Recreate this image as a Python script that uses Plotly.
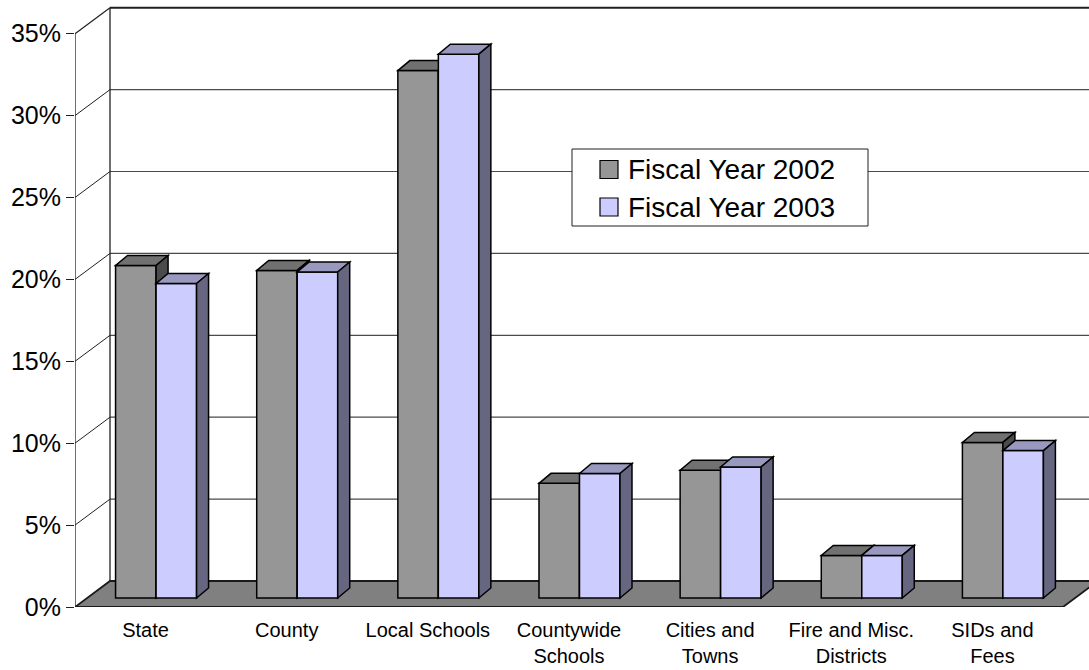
import plotly.graph_objects as go

# Share of total by recipient, fiscal years 2002 and 2003 (percent)
categories = ["State", "County", "Local Schools", "Countywide<br>Schools",
              "Cities and<br>Towns", "Fire and Misc.<br>Districts", "SIDs and<br>Fees"]
fy2002 = [20.3, 20.0, 32.2, 7.0, 7.8, 2.6, 9.5]
fy2003 = [19.2, 19.9, 33.2, 7.6, 8.0, 2.6, 9.0]
series_names = ["Fiscal Year 2002", "Fiscal Year 2003"]
y_ticks = [0, 5, 10, 15, 20, 25, 30, 35]

W, H = 1089, 670
ML, MB = 75, 63
PX_CAT = 141.14           # pixels per category
PX_PCT = 16.38            # pixels per percent
X_MAX = (W - ML) / PX_CAT
Y_MAX = (H - MB) / PX_PCT

# oblique depth offsets, expressed in axis units
WALL_DX, WALL_DY = 35 / PX_CAT, 26 / PX_PCT
BAR_SX, BAR_SY = 10.5 / PX_CAT, 9 / PX_PCT
BAR_DX, BAR_DY = 12 / PX_CAT, 10 / PX_PCT
BAR_W = 40.5 / PX_CAT

face_colors = [
    {"front": "#969696", "top": "#717171", "side": "#4b4b4b"},
    {"front": "#CCCCFF", "top": "#9999BF", "side": "#666680"},
]

shapes = []


def poly(pts, fill, line_color="black", width=1.5):
    d = "M " + " L ".join(f"{x:.5f},{y:.5f}" for x, y in pts) + " Z"
    shapes.append(dict(type="path", xref="x", yref="y", path=d,
                       fillcolor=fill, line=dict(color=line_color, width=width)))


def seg(x0, y0, x1, y1, color="#404040", width=1):
    shapes.append(dict(type="line", xref="x", yref="y", x0=x0, y0=y0, x1=x1, y1=y1,
                       line=dict(color=color, width=width)))


# back wall gridlines and left wall diagonals
for v in y_ticks[1:]:
    top = v == y_ticks[-1]
    seg(WALL_DX, v + WALL_DY, X_MAX + 1, v + WALL_DY,
        color="#202020" if top else "#4a4a4a", width=2 if top else 1.2)
    seg(0, v, WALL_DX, v + WALL_DY, color="#202020", width=1.2 if top else 1)

# wall edges and front value axis line
seg(WALL_DX, WALL_DY, WALL_DX, y_ticks[-1] + WALL_DY, color="#202020", width=1.3)
seg(0, 0, 0, y_ticks[-1], color="#202020", width=1.3)

# floor
n = len(categories)
poly([(0, 0), (WALL_DX, WALL_DY), (n + WALL_DX, WALL_DY), (n, 0)], "#808080",
     line_color="#1a1a1a", width=1.8)

# bars: front, top and side faces, painted left to right
for i in range(n):
    for j, vals in enumerate([fy2002, fy2003]):
        v = vals[i]
        c = face_colors[j]
        x0 = i + 0.5 + BAR_SX - BAR_W + j * BAR_W
        x1 = x0 + BAR_W
        yb = BAR_SY
        yt = v + BAR_SY
        poly([(x0, yb), (x1, yb), (x1, yt), (x0, yt)], c["front"])
        poly([(x0, yt), (x1, yt), (x1 + BAR_DX, yt + BAR_DY), (x0 + BAR_DX, yt + BAR_DY)], c["top"])
        poly([(x1, yb), (x1 + BAR_DX, yb + BAR_DY), (x1 + BAR_DX, yt + BAR_DY), (x1, yt)], c["side"])


# legend box drawn in paper space
def px_x(px):
    return (px - ML) / (W - ML)


def px_y(py):
    return (H - MB - py) / (H - MB)


shapes.append(dict(type="rect", xref="paper", yref="paper",
                   x0=px_x(572), x1=px_x(868), y0=px_y(226), y1=px_y(149),
                   fillcolor="white", line=dict(color="#202020", width=1)))
annotations = []
for k, name in enumerate(series_names):
    cy = 169.5 + k * 37.5
    shapes.append(dict(type="rect", xref="paper", yref="paper",
                       x0=px_x(600), x1=px_x(618), y0=px_y(cy + 9), y1=px_y(cy - 9),
                       fillcolor=face_colors[k]["front"], line=dict(color="black", width=1.2)))
    annotations.append(dict(xref="paper", yref="paper", x=px_x(626), y=px_y(cy),
                            xanchor="left", yanchor="middle", text=name, showarrow=False,
                            font=dict(family="Liberation Sans, Arial", size=28, color="black")))

fig = go.Figure()
fig.update_layout(
    width=W, height=H,
    margin=dict(l=ML, r=0, t=0, b=MB, pad=0),
    paper_bgcolor="white", plot_bgcolor="white",
    showlegend=False,
    shapes=shapes,
    annotations=annotations,
    xaxis=dict(range=[0, X_MAX], showgrid=False, zeroline=False, showline=False,
               tickmode="array", tickvals=[i + 0.5 for i in range(n)], ticktext=categories,
               ticks="", ticklabelstandoff=9,
               tickfont=dict(family="Liberation Sans, Arial", size=20, color="black")),
    yaxis=dict(range=[0, Y_MAX], showgrid=False, zeroline=False, showline=False,
               tickmode="array", tickvals=y_ticks, ticktext=[f"{t}%" for t in y_ticks],
               ticks="outside", ticklen=8, tickcolor="#202020", tickwidth=1,
               tickfont=dict(family="Liberation Sans, Arial", size=25, color="black")),
)
# an invisible trace so the axes are drawn
fig.add_trace(go.Scatter(x=[0], y=[0], mode="markers", marker=dict(opacity=0), hoverinfo="skip"))
fig.write_html("out.html")
